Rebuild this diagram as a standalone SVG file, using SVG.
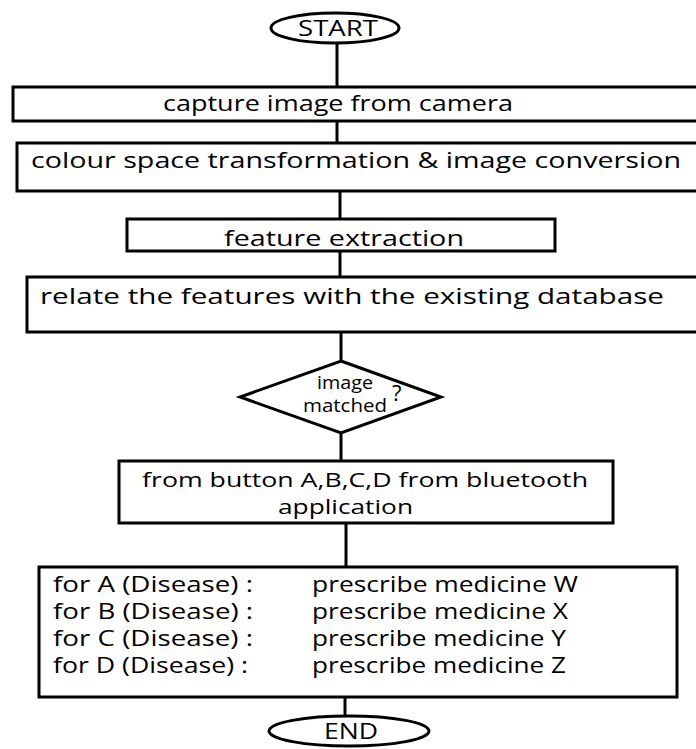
<svg xmlns="http://www.w3.org/2000/svg" width="696" height="749" viewBox="0 0 696 749">
<style>
.s{fill:#fff;stroke:#000;stroke-width:3}
.c{stroke:#000;stroke-width:3;fill:none}
text{font-family:"Open Sans","Noto Sans",sans-serif;font-size:22px;fill:#000}
.m{text-anchor:middle}
.sm{font-size:18px}
.t{font-size:21px}
.b{font-size:20px}
</style>
<rect width="696" height="749" fill="#fff"/>
<g id="connectors">
<line class="c" x1="337" y1="43" x2="337" y2="87"/>
<line class="c" x1="337" y1="121" x2="337" y2="143"/>
<line class="c" x1="340" y1="191" x2="340" y2="219"/>
<line class="c" x1="340" y1="251" x2="340" y2="277"/>
<line class="c" x1="341" y1="332" x2="341" y2="361"/>
<line class="c" x1="341" y1="433" x2="341" y2="461"/>
<line class="c" x1="346" y1="523" x2="346" y2="567"/>
<line class="c" x1="345" y1="697" x2="345" y2="716"/>
</g>
<g id="start">
<ellipse class="s" cx="335" cy="28" rx="64" ry="15"/>
<text class="m" x="338" y="36" textLength="80" lengthAdjust="spacingAndGlyphs">START</text>
</g>
<g id="capture">
<rect class="s" x="13" y="87" width="690" height="34"/>
<text x="163" y="111" textLength="350" lengthAdjust="spacingAndGlyphs">capture image from camera</text>
</g>
<g id="colour">
<rect class="s" x="17" y="143" width="690" height="48"/>
<text x="31" y="168" textLength="650" lengthAdjust="spacingAndGlyphs">colour space transformation &amp; image conversion</text>
</g>
<g id="feature">
<rect class="s" x="127" y="219" width="428" height="32"/>
<text x="224" y="246" textLength="240" lengthAdjust="spacingAndGlyphs">feature extraction</text>
</g>
<g id="relate">
<rect class="s" x="27" y="277" width="680" height="55"/>
<text x="40" y="304" textLength="624" lengthAdjust="spacingAndGlyphs">relate the features with the existing database</text>
</g>
<g id="decision">
<polygon class="s" points="341,361 441,397 341,433 240,397"/>
<text class="sm" x="317" y="389" textLength="56" lengthAdjust="spacingAndGlyphs">image</text>
<text class="sm" x="303" y="412" textLength="84" lengthAdjust="spacingAndGlyphs">matched</text>
<text x="392" y="401" font-size="15">?</text>
</g>
<g id="button">
<rect class="s" x="119" y="461" width="494" height="62"/>
<text class="b" x="142" y="487" textLength="446" lengthAdjust="spacingAndGlyphs">from button A,B,C,D from bluetooth</text>
<text class="b" x="278" y="514" textLength="135" lengthAdjust="spacingAndGlyphs">application</text>
</g>
<g id="prescribe">
<rect class="s" x="39" y="567" width="638" height="130"/>
<text class="t" x="53" y="592" textLength="200" lengthAdjust="spacingAndGlyphs">for A (Disease)  :</text>
<text class="t" x="53" y="619" textLength="200" lengthAdjust="spacingAndGlyphs">for B (Disease)  :</text>
<text class="t" x="53" y="646" textLength="200" lengthAdjust="spacingAndGlyphs">for C (Disease)  :</text>
<text class="t" x="53" y="673" textLength="195" lengthAdjust="spacingAndGlyphs">for D (Disease) :</text>
<text class="t" x="312" y="592" textLength="266" lengthAdjust="spacingAndGlyphs">prescribe medicine W</text>
<text class="t" x="312" y="619" textLength="256" lengthAdjust="spacingAndGlyphs">prescribe medicine X</text>
<text class="t" x="312" y="646" textLength="254" lengthAdjust="spacingAndGlyphs">prescribe medicine Y</text>
<text class="t" x="312" y="673" textLength="254" lengthAdjust="spacingAndGlyphs">prescribe medicine Z</text>
</g>
<g id="end">
<ellipse class="s" cx="349" cy="731" rx="80" ry="15"/>
<text class="m" x="351" y="739" textLength="54" lengthAdjust="spacingAndGlyphs">END</text>
</g>
</svg>
